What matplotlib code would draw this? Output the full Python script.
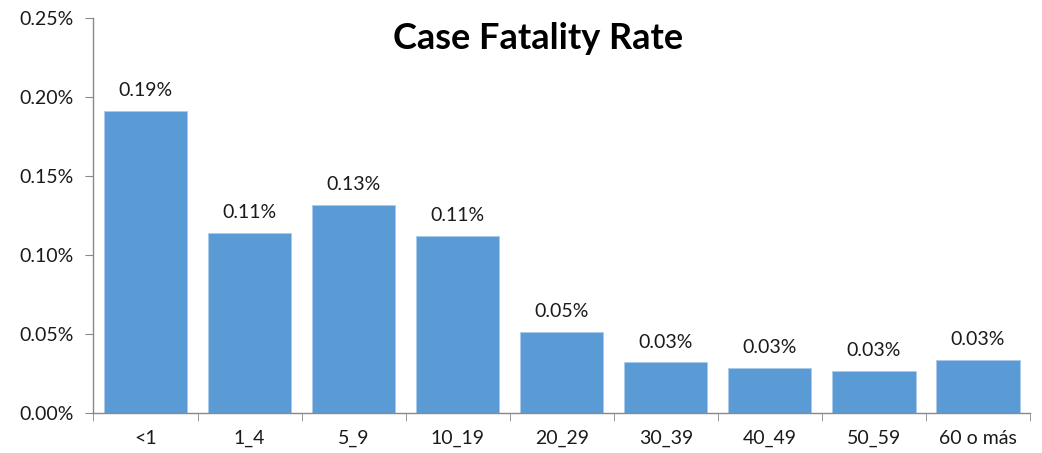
import matplotlib
matplotlib.use("Agg")
import matplotlib.pyplot as plt
from matplotlib.ticker import FuncFormatter, FixedLocator

categories = ["<1", "1_4", "5_9", "10_19", "20_29", "30_39", "40_49", "50_59", "60 o más"]
rates = [0.1911, 0.1138, 0.1317, 0.1121, 0.0514, 0.0322, 0.0286, 0.0267, 0.0337]  # percent
yticks = [0.00, 0.05, 0.10, 0.15, 0.20, 0.25]
title = "Case Fatality Rate"

plt.rcParams['font.family'] = ['Lato', 'DejaVu Sans']

fig = plt.figure(figsize=(10.42, 4.53), dpi=100)
ax = fig.add_axes([0.0897, 0.0876, 0.8988, 0.8734])

x = list(range(len(categories)))
bars = ax.bar(x, rates, width=0.8, color="#5B9BD5", edgecolor="#A9CBEA", linewidth=0.6)

for xi, v in zip(x, rates):
    ax.annotate(f"{v:.2f}%", (xi, v), xytext=(0, 8.5), textcoords="offset points",
                ha="center", va="bottom", fontsize=14, color="#1a1a1a")

ax.set_xlim(-0.5, len(categories) - 0.5)
ax.set_ylim(0, 0.25)
ax.set_yticks(yticks)
ax.yaxis.set_major_formatter(FuncFormatter(lambda v, p: f"{v:.2f}%"))
ax.set_xticks(x)
ax.set_xticklabels(categories)
ax.xaxis.set_minor_locator(FixedLocator([i - 0.5 for i in range(len(categories) + 1)]))
ax.tick_params(axis="x", which="major", length=0, pad=12, labelsize=14, labelcolor="#1a1a1a")
ax.tick_params(axis="x", which="minor", length=6, color="#898989", direction="out")
ax.tick_params(axis="y", which="major", length=6, color="#898989", direction="out", pad=8,
               labelsize=14, labelcolor="#1a1a1a")

for s in ["top", "right"]:
    ax.spines[s].set_visible(False)
for s in ["left", "bottom"]:
    ax.spines[s].set_color("#898989")
    ax.spines[s].set_linewidth(1.0)

fig.text(0.516, 0.915, title, ha="center", va="center", fontsize=26, fontweight="bold", color="#000000")

fig.savefig("out.png", dpi=100)
